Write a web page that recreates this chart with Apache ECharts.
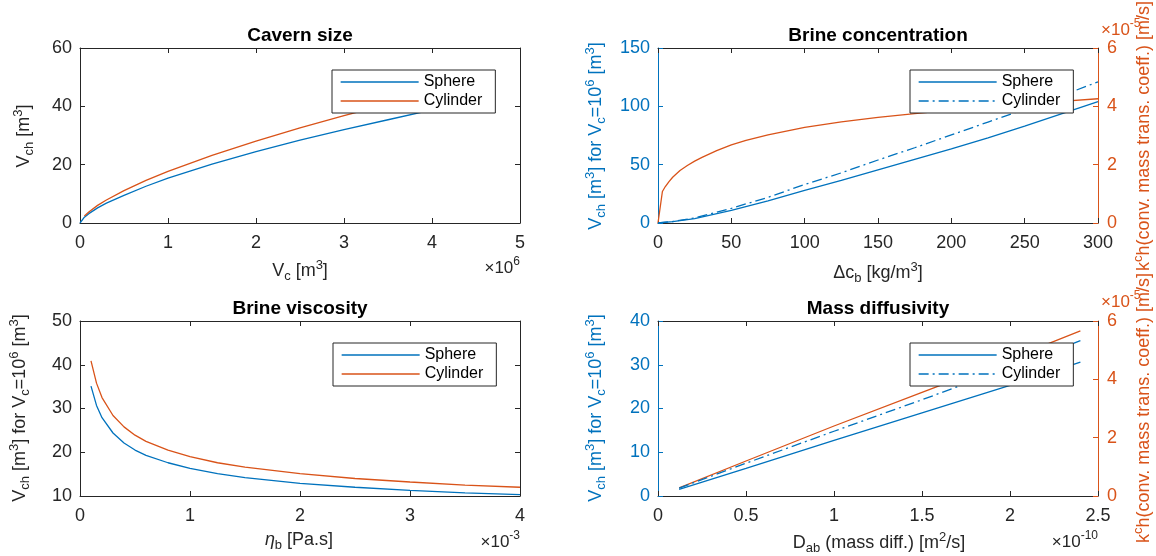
<!DOCTYPE html>
<html>
<head>
<meta charset="utf-8">
<script src="https://cdn.jsdelivr.net/npm/echarts@6/dist/echarts.min.js"></script>
<style>
  html, body { margin: 0; padding: 0; background: #ffffff; }
  #chart { width: 1156px; height: 556px; }
</style>
</head>
<body>
<div id="chart"></div>
<script>
// ---- Cavern size: chimney volume vs cavern volume (Vc in units of 1e6 m^3)
const cavernVc       = [0, 0.05, 0.1, 0.2, 0.3, 0.5, 0.75, 1, 1.5, 2, 2.5, 3, 3.5, 4, 4.5];
const cavernSphere   = [0, 2.0, 3.2, 5.2, 6.8, 9.5, 12.6, 15.4, 20.2, 24.5, 28.4, 32.0, 35.4, 38.8, 41.9];
const cavernCylinder = [null, 2.4, 3.8, 6.05, 7.9, 11.1, 14.6, 17.7, 23.2, 28.1, 32.6, 36.8, 40.8, 44.6, 48.2];

// ---- Brine concentration (kg/m^3)
const concDcb      = [0, 10, 25, 50, 75, 100, 125, 150, 175, 200, 225, 250, 275, 300];
const concSphere   = [0, 1.1, 3.7, 10.8, 19, 28, 36.5, 45.5, 54.5, 63.5, 73, 83, 93.5, 104];
const concCylinder = [0, 1.3, 4.3, 12.6, 22, 33, 43, 54, 64.5, 75.5, 86.5, 97.5, 109, 121];
// mass transfer coefficient, units of 1e-5 m/s
const concKDcb = [0, 3, 5, 7.5, 10, 15, 20, 25, 30, 40, 50, 60, 75, 100, 125, 150, 175, 200, 225, 250, 275, 300];
const concK    = [0, 1.08, 1.25, 1.42, 1.57, 1.8, 1.97, 2.12, 2.25, 2.48, 2.68, 2.83, 3.02, 3.28, 3.47, 3.62, 3.75, 3.87, 3.98, 4.08, 4.17, 4.26];

// ---- Brine viscosity (units of 1e-3 Pa.s)
const viscEta      = [0.1, 0.15, 0.2, 0.3, 0.4, 0.5, 0.6, 0.8, 1.0, 1.25, 1.5, 2.0, 2.5, 3.0, 3.5, 4.0];
const viscSphere   = [35.1, 30.7, 27.9, 24.4, 22.1, 20.5, 19.3, 17.6, 16.3, 15.1, 14.2, 12.9, 12.0, 11.3, 10.7, 10.3];
const viscCylinder = [40.9, 35.8, 32.5, 28.4, 25.8, 23.9, 22.5, 20.5, 19.0, 17.6, 16.6, 15.1, 14.0, 13.2, 12.5, 12.0];

// ---- Mass diffusivity (units of 1e-10 m^2/s)
const diffDab      = [0.12, 0.5, 1.0, 1.5, 2.0, 2.4];
const diffSphere   = [1.5, 6.3, 12.7, 19.0, 25.3, 30.6];
const diffCylinder = [1.8, 7.5, 14.8, 22.0, 29.4, 35.5];
const diffK        = [0.28, 1.2, 2.4, 3.55, 4.7, 5.66];   // units of 1e-5 m/s

// ---- Axis ranges and tick steps
const xRanges = [[0, 5, 1], [0, 300, 50], [0, 4, 1], [0, 2.5, 0.5]];
const yLeftRanges = [[0, 60, 20], [0, 150, 50], [10, 50, 10], [0, 40, 10]];
const yRightRange = [0, 6, 2];
const titles = ['Cavern size', 'Brine concentration', 'Brine viscosity', 'Mass diffusivity'];

const FONT = '"Liberation Sans", Arial, Helvetica, sans-serif';
const BLUE = '#0072BD', ORANGE = '#D95319', GRAY = '#262626';

const grids = [
  { left: 80,  top: 48,  width: 440, height: 175 },
  { left: 658, top: 48,  width: 440, height: 175 },
  { left: 80,  top: 321, width: 440, height: 175 },
  { left: 658, top: 321, width: 440, height: 175 }
];

function pairs(xs, ys) {
  return xs.map((x, i) => [x, ys[i]]).filter(p => p[1] != null);
}

function lineSeries(name, xi, yi, xs, ys, color, dashDot) {
  return {
    type: 'line', name, xAxisIndex: xi, yAxisIndex: yi,
    data: pairs(xs, ys), symbol: 'none', showSymbol: false,
    lineStyle: { color, width: 1.3, type: dashDot ? [10, 4, 2, 4] : 'solid' },
    itemStyle: { color }, silent: true, animation: false, z: 2
  };
}

function tickStyle(color) {
  return { show: true, inside: true, length: 5, lineStyle: { color, width: 1 } };
}

function xAxisFor(g, top) {
  const [min, max, interval] = xRanges[g];
  return {
    type: 'value', gridIndex: g, position: top ? 'top' : 'bottom', min, max, interval,
    axisLine: { show: true, onZero: false, lineStyle: { color: GRAY, width: 1 } },
    axisTick: tickStyle(GRAY),
    axisLabel: { show: !top, margin: 11, color: GRAY, fontSize: 18, fontFamily: FONT },
    splitLine: { show: false }
  };
}

function yAxisFor(g, range, right, color, labels) {
  const [min, max, interval] = range;
  return {
    type: 'value', gridIndex: g, position: right ? 'right' : 'left', min, max, interval,
    axisLine: { show: true, onZero: false, lineStyle: { color, width: 1 } },
    axisTick: tickStyle(color),
    axisLabel: { show: labels, margin: right ? 9 : 8, color, fontSize: 18, fontFamily: FONT },
    splitLine: { show: false }
  };
}

const xAxes = [];
const yAxes = [];
for (let g = 0; g < 4; g++) {
  xAxes.push(xAxisFor(g, false));   // index 2g
  xAxes.push(xAxisFor(g, true));    // index 2g+1 (box top)
  const twin = (g === 1 || g === 3);
  yAxes.push(yAxisFor(g, yLeftRanges[g], false, twin ? BLUE : GRAY, true));          // index 2g
  yAxes.push(twin ? yAxisFor(g, yRightRange, true, ORANGE, true)
                  : yAxisFor(g, yLeftRanges[g], true, GRAY, false));                 // index 2g+1
}

const series = [
  lineSeries('Sphere|a',   0, 0, cavernVc, cavernSphere,   BLUE,   false),
  lineSeries('Cylinder|a', 0, 0, cavernVc, cavernCylinder, ORANGE, false),

  lineSeries('k|b',        2, 3, concKDcb, concK,        ORANGE, false),
  lineSeries('Sphere|b',   2, 2, concDcb,  concSphere,   BLUE,   false),
  lineSeries('Cylinder|b', 2, 2, concDcb,  concCylinder, BLUE,   true),

  lineSeries('Sphere|c',   4, 4, viscEta, viscSphere,   BLUE,   false),
  lineSeries('Cylinder|c', 4, 4, viscEta, viscCylinder, ORANGE, false),

  lineSeries('k|d',        6, 7, diffDab, diffK,        ORANGE, false),
  lineSeries('Sphere|d',   6, 6, diffDab, diffSphere,   BLUE,   false),
  lineSeries('Cylinder|d', 6, 6, diffDab, diffCylinder, BLUE,   true)
];

function legendAt(tag, left, top) {
  return {
    data: ['Sphere|' + tag, 'Cylinder|' + tag], left, top, orient: 'vertical',
    itemWidth: 78, itemHeight: 16, itemGap: 3, padding: [4, 13, 4, 8],
    borderColor: GRAY, borderWidth: 1, borderRadius: 0, backgroundColor: '#ffffff',
    selectedMode: false, formatter: n => n.split('|')[0],
    itemStyle: { opacity: 0, borderWidth: 0 },
    lineStyle: { width: 1.3 },
    textStyle: { fontSize: 16, lineHeight: 16, fontFamily: FONT, color: '#000' },
    z: 10
  };
}

const titleCenters = [[300, 26], [878, 26], [300, 299], [878, 299]];
const titleOpts = titles.map((t, i) => ({
  text: t, left: titleCenters[i][0], top: titleCenters[i][1], textAlign: 'center', padding: 0,
  textStyle: { fontSize: 19, fontWeight: 'bold', color: '#000', fontFamily: FONT }
}));

function rich(color, size) {
  const small = Math.round(size * 0.72);
  return {
    n: { fontSize: size, lineHeight: 24, color, fontFamily: FONT },
    i: { fontSize: size, lineHeight: 24, color, fontFamily: FONT, fontStyle: 'italic' },
    b: { fontSize: small, lineHeight: 12, verticalAlign: 'bottom', color, fontFamily: FONT },
    p: { fontSize: small, lineHeight: 12, verticalAlign: 'top', color, fontFamily: FONT }
  };
}

function label(text, x, y, color, opts) {
  opts = opts || {};
  const size = opts.size || 18;
  return {
    type: 'text', x, y, rotation: opts.rotate ? Math.PI / 2 : 0, z: 20, silent: true,
    style: {
      text, rich: rich(color, size), fill: color, fontSize: size, fontFamily: FONT,
      align: opts.align || 'center', verticalAlign: 'middle'
    }
  };
}

const vchName = '{n|V}{b|ch}{n| [m}{p|3}{n|] for V}{b|c}{n|=10}{p|6}{n| [m}{p|3}{n|]}';
const kName = '{n|k}{p|c}{n|h(conv. mass trans. coeff.) [m/s]}';

const graphics = [
  // Cavern size
  label('{n|V}{b|c}{n| [m}{p|3}{n|]}', 300, 271, GRAY),
  label('{n|×10}{p|6}', 520, 268, GRAY, { align: 'right', size: 17 }),
  label('{n|V}{b|ch}{n| [m}{p|3}{n|]}', 24, 136, GRAY, { rotate: true }),
  // Brine concentration
  label('{n|Δc}{b|b}{n| [kg/m}{p|3}{n|]}', 878, 273, GRAY),
  label(vchName, 596, 136, BLUE, { rotate: true }),
  label(kName, 1144, 136, ORANGE, { rotate: true }),
  label('{n|×10}{p|-5}', 1101, 30, ORANGE, { align: 'left', size: 17 }),
  // Brine viscosity
  label('{i|η}{b|b}{n| [Pa.s]}', 299, 540, GRAY),
  label('{n|×10}{p|-3}', 520, 542, GRAY, { align: 'right', size: 17 }),
  label(vchName, 20, 408, GRAY, { rotate: true }),
  // Mass diffusivity
  label('{n|D}{b|ab}{n| (mass diff.) [m}{p|2}{n|/s]}', 879, 543, GRAY),
  label('{n|×10}{p|-10}', 1098, 542, GRAY, { align: 'right', size: 17 }),
  label(vchName, 596, 408, BLUE, { rotate: true }),
  label(kName, 1144, 408, ORANGE, { rotate: true }),
  label('{n|×10}{p|-5}', 1101, 302, ORANGE, { align: 'left', size: 17 })
];

const chart = echarts.init(document.getElementById('chart'), null, { renderer: 'canvas' });
chart.setOption({
  backgroundColor: '#ffffff',
  animation: false,
  title: titleOpts,
  grid: grids,
  xAxis: xAxes,
  yAxis: yAxes,
  legend: [legendAt('a', 332, 70), legendAt('b', 910, 70), legendAt('c', 333, 343), legendAt('d', 910, 343)],
  series,
  graphic: graphics
});
</script>
</body>
</html>
